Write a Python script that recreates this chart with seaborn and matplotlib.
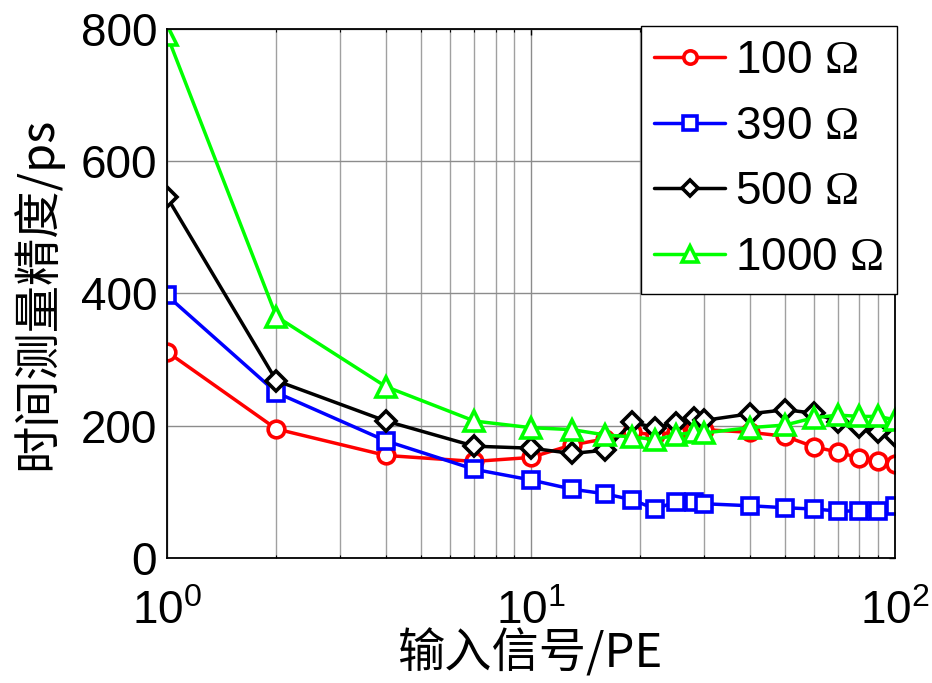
import numpy as np
import pandas as pd
import matplotlib
matplotlib.use("Agg")
import matplotlib.pyplot as plt
import seaborn as sns
from matplotlib.ticker import LogLocator, FixedLocator, NullFormatter

# Input signal amplitude (photoelectrons)
pe = [1, 2, 4, 7, 10, 13, 16, 19, 22, 25, 28, 30, 40, 50, 60, 70, 80, 90, 100]

# Timing precision (ps) for each termination resistor
r100 = [312, 195, 155, 146, 152, 171, 180, 190, 186, 191, 194, 194, 190, 184, 168, 160, 151, 147, 142]
r390 = [397, 250, 177, 134, 118, 104, 97, 88, 74, 85, 85, 82, 79, 76, 74, 71, 71, 71, 78]
r500 = [546, 268, 207, 169, 166, 158, 163, 205, 197, 204, 211, 208, 218, 224, 219, 206, 198, 190, 184]
r1000 = [791, 365, 259, 207, 197, 194, 186, 183, 179, 186, 190, 189, 197, 201, 212, 216, 214, 214, 209]

labels = ["100 $\\Omega$", "390 $\\Omega$", "500 $\\Omega$", "1000 $\\Omega$"]
colors = ["#ff0000", "#0000ff", "#000000", "#00ff00"]
markers = ["o", "s", "D", "^"]
msizes = [12, 12, 10, 14]

yticks = [0, 200, 400, 600, 800]

sns.set_style("white")
plt.rcParams["font.family"] = ["Liberation Sans", "Noto Sans CJK SC", "DejaVu Sans"]
plt.rcParams["mathtext.fontset"] = "custom"
plt.rcParams["mathtext.rm"] = "Liberation Serif"
plt.rcParams["mathtext.it"] = "Liberation Serif:italic"
plt.rcParams["mathtext.bf"] = "Liberation Serif:bold"
plt.rcParams["axes.unicode_minus"] = False
for key in ["text.color", "axes.labelcolor", "xtick.color", "ytick.color"]:
    plt.rcParams[key] = "black"

fig = plt.figure(figsize=(9.32, 6.83), dpi=100)
ax = fig.add_axes([0.179, 0.183, 0.781, 0.775])

for vals, lab, c, m, ms in zip([r100, r390, r500, r1000], labels, colors, markers, msizes):
    sns.lineplot(x=pe, y=vals, ax=ax, color=c, linewidth=2.5, marker=m,
                 markersize=ms, markerfacecolor="white", markeredgecolor=c,
                 markeredgewidth=2.6, label=lab, sort=False, errorbar=None)

ax.set_xscale("log")
ax.set_xlim(1, 100)
ax.set_ylim(0, 800)
ax.yaxis.set_major_locator(FixedLocator(yticks))
ax.xaxis.set_major_locator(LogLocator(base=10, numticks=5))
ax.xaxis.set_minor_locator(LogLocator(base=10, subs=np.arange(2, 10), numticks=20))
ax.xaxis.set_minor_formatter(NullFormatter())

ax.grid(True, which="major", axis="both", color="#8c8c8c", linewidth=1.0)
ax.grid(True, which="minor", axis="x", color="#a0a0a0", linewidth=1.0)
ax.set_axisbelow(True)

ax.tick_params(axis="both", which="major", direction="in", length=4, width=1,
               top=True, right=True, labelsize=33, pad=7)
ax.tick_params(axis="x", which="minor", direction="in", length=2.5, width=0.8,
               top=True, bottom=True)
ax.tick_params(axis="x", which="major", pad=23)
for sp in ax.spines.values():
    sp.set_color("black")
    sp.set_linewidth(1.3)

ax.set_xlabel("输入信号/PE", fontsize=34, labelpad=-3,
              family=["Noto Sans CJK SC", "Liberation Sans"])
ax.set_ylabel("时间测量精度/ps", fontsize=34, labelpad=13,
              family=["Noto Sans CJK SC", "Liberation Sans"])

leg = ax.legend(loc="upper right", bbox_to_anchor=(1.003, 1.006), borderaxespad=0,
                fontsize=33, handlelength=1.55, handletextpad=0.2,
                labelspacing=0.47, borderpad=0.3, frameon=True, fancybox=False,
                framealpha=1, edgecolor="black", markerscale=0.8)
leg.get_frame().set_linewidth(1.0)

fig.savefig("out.png", dpi=100)
